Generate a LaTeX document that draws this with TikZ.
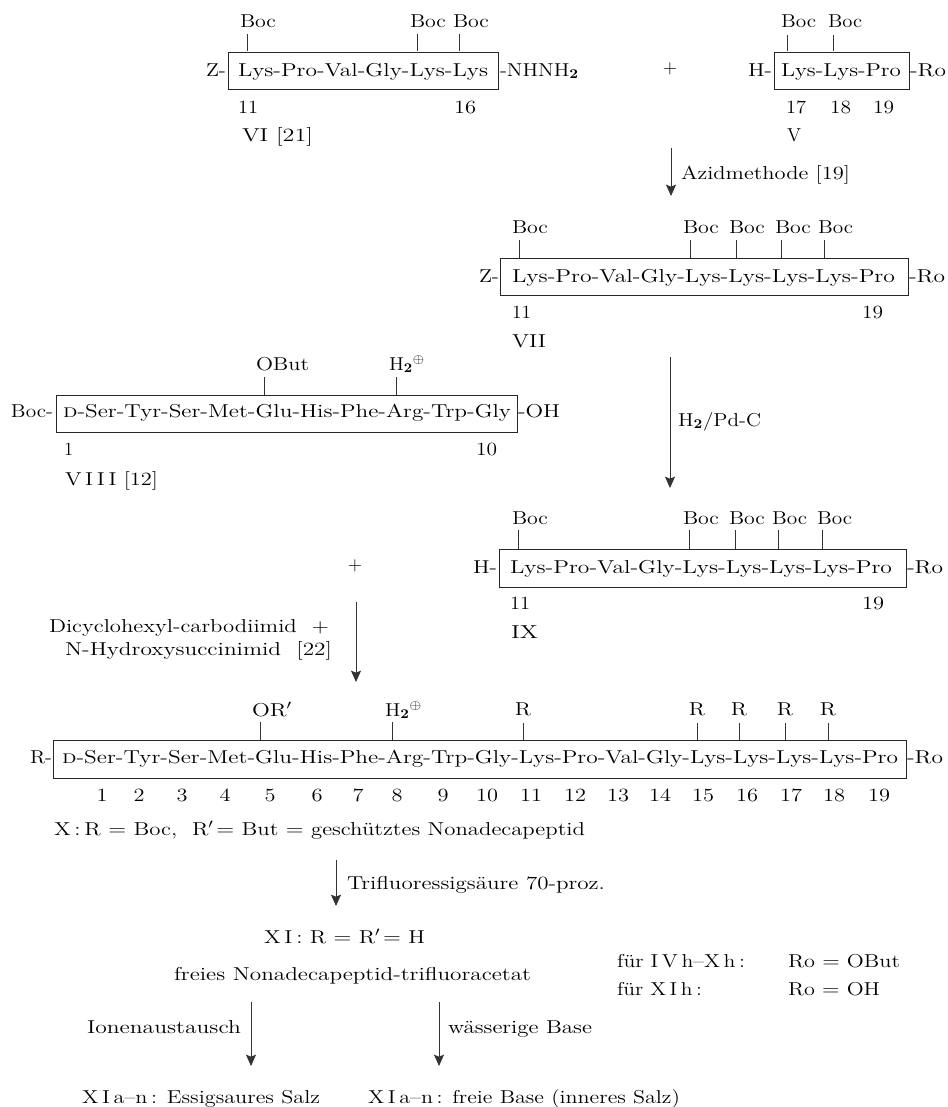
\documentclass[tikz,border=0pt]{standalone}
\usepackage{graphicx}
\usetikzlibrary{arrows.meta}
\tikzset{
  lbl/.style={inner sep=0pt,outer sep=0pt,anchor=base west,font=\fontsize{14}{16}\selectfont,text=black},
  num/.style={lbl,anchor=base},
  pbox/.style={draw=black!85,line width=0.7pt,inner sep=0pt,outer sep=0pt,anchor=north west},
  tick/.style={draw=black!80,line width=0.55pt},
  reactarrow/.style={draw=black!80,line width=0.6pt,-{Stealth[length=8.5pt,width=7.5pt,inset=1.5pt]}}
}
% text fitted between x0 and x1 on baseline y
\newcommand\Tx[5]{\node[lbl] (#1) at (#2,#4) {\resizebox{\dimexpr\numexpr#3-#2\relax pt*3/4\relax}{\height}{#5}};}
% centred short text
\newcommand\Nm[4]{\node[num] (#1) at (#2,#3) {\scalebox{1.2}[1]{#4}};}
\newcommand\Bx[5]{\node[pbox,minimum width={(#3-#2)*0.75pt},minimum height={(#5-#4)*0.75pt}] (#1) at (#2,#4) {};}
\newcommand\Tk[4]{\coordinate (#1a) at (#2,#3);\coordinate (#1b) at (#2,#4);\draw[tick] (#1a) -- (#1b);}
\newcommand\Ar[4]{\coordinate (#1a) at (#2,#3);\coordinate (#1b) at (#2,#4);\draw[reactarrow] (#1a) -- (#1b);}
\newcommand\Htwo{H$_{\mathbf 2}$}
\begin{document}
\begin{tikzpicture}[x=0.75pt,y=-0.75pt]
\useasboundingbox (0,0) rectangle (947,1107);
% --- VI
\Tx{bA1}{240}{276}{27}{Boc}\Tx{bA2}{410}{446}{27}{Boc}\Tx{bA3}{453}{489}{27}{Boc}
\Tk{tA1}{247}{34}{51}\Tk{tA2}{417}{34}{51}\Tk{tA3}{459}{34}{51}
\Bx{boxA}{228}{498}{52}{89}
\Tx{zA}{206}{226}{76}{Z-}
\Tx{seqA}{238}{488}{76}{Lys-Pro-Val-Gly-Lys-Lys}
\Tx{endA}{500}{579}{76}{-NHNH$_{\mathbf 2}$}
\Tx{nA1}{238}{258}{113}{11}\Tx{nA2}{454}{476}{113}{16}
\Tx{lA}{242}{313}{141}{VI [21]}
\node[num] (plusA) at (670,73) {+};
% --- V
\Tx{bB1}{781}{816}{27}{Boc}\Tx{bB2}{828}{862}{27}{Boc}
\Tk{tB1}{787}{35}{51}\Tk{tB2}{833}{35}{51}
\Bx{boxB}{774}{909}{52}{89}
\Tx{hB}{748}{772}{76}{H-}
\Tx{seqB}{781}{901}{76}{Lys-Lys-Pro}
\Tx{endB}{910}{946}{76}{-Ro}
\Tx{nB1}{786}{806}{113}{17}\Tx{nB2}{830}{851}{113}{18}\Tx{nB3}{873}{894}{113}{19}
\Tx{lB}{787}{801}{141}{V}
\Ar{arA}{671}{148}{196}
\Tx{azid}{681}{850}{179}{Azidmethode [19]}
% --- VII
\Tx{bC1}{512}{548}{233}{Boc}\Tx{bC2}{683}{719}{233}{Boc}\Tx{bC3}{729}{765}{233}{Boc}\Tx{bC4}{775}{811}{233}{Boc}\Tx{bC5}{818}{853}{233}{Boc}
\Tk{tC1}{519}{240}{258}\Tk{tC2}{690}{240}{258}\Tk{tC3}{736}{240}{258}\Tk{tC4}{781}{240}{258}\Tk{tC5}{824}{240}{258}
\Bx{boxC}{500}{908}{258}{295}
\Tx{zC}{479}{499}{282}{Z-}
\Tx{seqC}{512}{895}{282}{Lys-Pro-Val-Gly-Lys-Lys-Lys-Lys-Pro}
\Tx{endC}{909}{945}{282}{-Ro}
\Tx{nC1}{512}{531}{318}{11}\Tx{nC2}{862}{883}{318}{19}
\Tx{lC}{512}{546}{347}{VII}
\Ar{arB}{670}{357}{488}
\Tx{pd}{678}{761}{426}{\Htwo/Pd-C}
% --- VIII
\Tx{oD}{256}{309}{370}{OBut}
\Tk{tD1}{264}{377}{395}
\Tx{hD}{389}{425}{370}{\Htwo{}$^{\oplus}$}
\Tk{tD2}{396}{377}{395}
\Bx{boxD}{56}{517}{395}{432}
\Tx{bocD}{11}{53}{417}{Boc-}
\Tx{seqD}{63}{511}{417}{\textsc{d}-Ser-Tyr-Ser-Met-Glu-His-Phe-Arg-Trp-Gly}
\Tx{endD}{518}{560}{417}{-OH}
\Tx{nD1}{64}{73}{455}{1}\Tx{nD2}{476}{497}{455}{10}
\Tx{lD}{65}{158}{485}{V\,I\,I\,I [12]}
% --- IX
\Tx{bE1}{512}{548}{524}{Boc}\Tx{bE2}{683}{719}{524}{Boc}\Tx{bE3}{729}{765}{524}{Boc}\Tx{bE4}{772}{807}{524}{Boc}\Tx{bE5}{817}{852}{524}{Boc}
\Tk{tE1}{518}{530}{549}\Tk{tE2}{689}{530}{549}\Tk{tE3}{735}{530}{549}\Tk{tE4}{778}{530}{549}\Tk{tE5}{822}{530}{549}
\Bx{boxE}{499}{906}{549}{587}
\Tx{hE}{473}{497}{573}{H-}
\Tx{seqE}{510}{892}{573}{Lys-Pro-Val-Gly-Lys-Lys-Lys-Lys-Pro}
\Tx{endE}{907}{943}{573}{-Ro}
\Tx{nE1}{510}{530}{609}{11}\Tx{nE2}{862}{884}{609}{19}
\Tx{lE}{511}{538}{638}{IX}
% --- coupling
\node[num] (plusB) at (355,570) {+};
\Ar{arC}{356}{602}{682}
\Tx{dcc}{49}{329}{632}{Dicyclohexyl-carbodiimid\ \ +}
\Tx{nhs}{65}{332}{655}{N-Hydroxysuccinimid\ \ [22]}
% --- X
\Tx{oF}{252}{292}{716}{OR$'$}
\Tk{tF1}{260}{722}{740}
\Tx{hF}{385}{422}{716}{\Htwo{}$^{\oplus}$}
\Tk{tF2}{392}{722}{740}
\Nm{rF1}{523}{715}{R}\Nm{rF2}{697}{715}{R}\Nm{rF3}{739}{715}{R}\Nm{rF4}{785}{715}{R}\Nm{rF5}{828}{715}{R}
\Tk{tF3}{523}{723}{740}\Tk{tF4}{697}{723}{740}\Tk{tF5}{739}{723}{740}\Tk{tF6}{785}{723}{740}\Tk{tF7}{828}{723}{740}
\Bx{boxF}{53}{906}{740}{778}
\Tx{rF}{30}{52}{763}{R-}
\Tx{seqF}{62}{898}{763}{\textsc{d}-Ser-Tyr-Ser-Met-Glu-His-Phe-Arg-Trp-Gly-Lys-Pro-Val-Gly-Lys-Lys-Lys-Lys-Pro}
\Tx{endF}{907}{943}{763}{-Ro}
\Nm{nF1}{102}{801}{1}\Nm{nF2}{139}{801}{2}\Nm{nF3}{182}{801}{3}\Nm{nF4}{225}{801}{4}\Nm{nF5}{270}{801}{5}
\Nm{nF6}{317}{801}{6}\Nm{nF7}{358}{801}{7}\Nm{nF8}{397}{801}{8}\Nm{nF9}{443}{801}{9}\Nm{nF10}{487}{801}{10}
\Nm{nF11}{531}{801}{11}\Nm{nF12}{575}{801}{12}\Nm{nF13}{618}{801}{13}\Nm{nF14}{660}{801}{14}\Nm{nF15}{703}{801}{15}
\Nm{nF16}{747}{801}{16}\Nm{nF17}{791}{801}{17}\Nm{nF18}{834}{801}{18}\Nm{nF19}{879}{801}{19}
\Tx{lF}{54}{585}{835}{X\,:\,R $=$ Boc,\ \ R$'\!=$ But $=$ geschütztes Nonadecapeptid}
% --- bottom
\Ar{arD}{336}{860}{906}
\Tx{tfa}{347}{605}{889}{Trifluoressigsäure 70-proz.}
\Tx{xi}{264}{425}{943}{X\,I\,:\ R $=$ R$'\!=$ H}
\Tx{frei}{174}{531}{980}{freies Nonadecapeptid-trifluoracetat}
\Tx{fuA}{617}{745}{967}{für I\,V\,h--X\,h\,:}
\Tx{fuB}{617}{702}{995}{für X\,I\,h\,:}
\Tx{roA}{788}{900}{967}{Ro $=$ OBut}
\Tx{roB}{788}{880}{995}{Ro $=$ OH}
\Ar{arE}{251}{1002}{1066}
\Ar{arF}{439}{1002}{1066}
\Tx{ion}{87}{241}{1033}{Ionenaustausch}
\Tx{wass}{448}{592}{1033}{wässerige Base}
\Tx{esA}{82}{320}{1103}{X\,I\,a--n\,: Essigsaures Salz}
\Tx{esB}{368}{680}{1103}{X\,I\,a--n\,: freie Base (inneres Salz)}
\end{tikzpicture}
\end{document}
